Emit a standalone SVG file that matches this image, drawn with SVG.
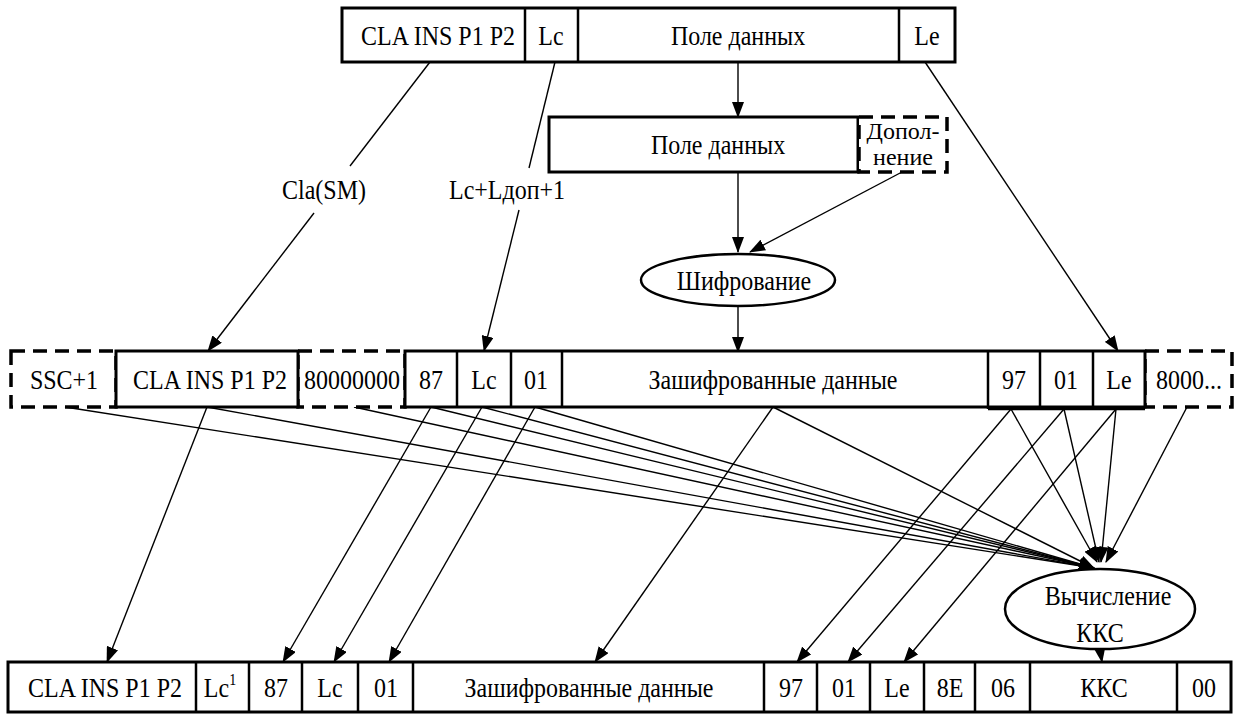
<svg xmlns="http://www.w3.org/2000/svg" width="1242" height="718" viewBox="0 0 1242 718" font-family="'Liberation Serif', 'Times New Roman', serif">
<style>
text{font-family:'Liberation Serif','Times New Roman',serif;font-size:24px;fill:#000;text-anchor:middle}
.box{fill:#fff;stroke:#000;stroke-width:3}
.dash{fill:#fff;stroke:#000;stroke-width:3.5;stroke-dasharray:14 8}
.div{stroke:#000;stroke-width:2.5}
.ell{fill:#fff;stroke:#000;stroke-width:2.5}
.ln{stroke:#000;stroke-width:1.4;fill:none}
.ar{stroke:#000;stroke-width:1.4;fill:none;marker-end:url(#ah)}
</style>
<defs>
<marker id="ah" markerUnits="userSpaceOnUse" markerWidth="16" markerHeight="12" refX="15" refY="6" orient="auto">
<path d="M0,0 L16,6 L0,12 z" fill="#000"/>
</marker>
</defs>
<rect width="1242" height="718" fill="#fff"/>

<g id="connectors">
<line class="ar" x1="738" y1="62" x2="738" y2="117"/>
<line class="ar" x1="738" y1="172" x2="738" y2="252"/>
<line class="ar" x1="902" y1="172" x2="750" y2="252"/>
<line class="ar" x1="738" y1="306" x2="738" y2="352"/>
<line class="ln" x1="430" y1="62" x2="350" y2="166"/>
<line class="ar" x1="314" y1="213" x2="208" y2="351"/>
<line class="ln" x1="555" y1="62" x2="529" y2="168"/>
<line class="ar" x1="519" y1="210" x2="484" y2="351"/>
<line class="ar" x1="925" y1="62" x2="1118" y2="351"/>
<line class="ar" x1="207" y1="407" x2="107" y2="662"/>
<line class="ar" x1="431" y1="407" x2="283" y2="662"/>
<line class="ar" x1="482" y1="407" x2="334" y2="662"/>
<line class="ar" x1="535" y1="407" x2="389" y2="662"/>
<line class="ar" x1="773" y1="407" x2="595" y2="662"/>
<line class="ar" x1="1011" y1="409" x2="797" y2="662"/>
<line class="ar" x1="1064" y1="409" x2="848" y2="662"/>
<line class="ar" x1="1116" y1="409" x2="904" y2="662"/>
<line class="ar" x1="65" y1="407" x2="1094" y2="568"/>
<line class="ar" x1="207" y1="407" x2="1094" y2="568"/>
<line class="ar" x1="354" y1="407" x2="1094" y2="568"/>
<line class="ar" x1="431" y1="407" x2="1094" y2="568"/>
<line class="ar" x1="482" y1="407" x2="1094" y2="568"/>
<line class="ar" x1="535" y1="407" x2="1094" y2="568"/>
<line class="ar" x1="773" y1="407" x2="1094" y2="568"/>
<line class="ar" x1="1011" y1="409" x2="1097" y2="562"/>
<line class="ar" x1="1064" y1="409" x2="1099" y2="562"/>
<line class="ar" x1="1116" y1="409" x2="1101" y2="562"/>
<line class="ar" x1="1187" y1="407" x2="1106" y2="562"/>
<line class="ar" x1="1100" y1="650" x2="1102" y2="662"/>
</g>

<g id="top-row">
<rect class="box" x="342" y="8" width="613" height="54"/>
<line class="div" x1="525" y1="8" x2="525" y2="62"/>
<line class="div" x1="578" y1="8" x2="578" y2="62"/>
<line class="div" x1="899" y1="8" x2="899" y2="62"/>
<text transform="translate(438 45) scale(1 1.18)">CLA INS P1 P2</text>
<text transform="translate(551 45) scale(1 1.18)">Lc</text>
<text transform="translate(738 45) scale(1 1.18)">Поле данных</text>
<text transform="translate(927 45) scale(1 1.18)">Le</text>
</g>

<g id="data-field">
<rect class="box" x="549" y="117" width="309" height="55"/>
<text transform="translate(718 154) scale(1 1.18)">Поле данных</text>
</g>
<g id="padding">
<rect class="dash" x="859" y="117" width="88" height="55"/>
<text font-size="20" x="903" y="139">Допол-</text>
<text font-size="20" x="903" y="165">нение</text>
</g>

<g id="encrypt">
<ellipse class="ell" cx="738" cy="280" rx="97" ry="26"/>
<text transform="translate(744 290) scale(1 1.18)">Шифрование</text>
</g>

<g id="labels">
<text transform="translate(324 199) scale(1 1.18)">Cla(SM)</text>
<text transform="translate(507 199) scale(1 1.18)">Lc+Lдоп+1</text>
</g>

<g id="middle-row">
<rect class="dash" x="11" y="351" width="105" height="56"/>
<rect class="dash" x="298" y="351" width="107" height="56"/>
<rect class="dash" x="1145" y="351" width="87" height="56"/>
<rect class="box" x="116" y="351" width="182" height="56"/>
<rect class="box" x="405" y="351" width="740" height="56"/>
<line class="div" x1="457" y1="351" x2="457" y2="407"/>
<line class="div" x1="511" y1="351" x2="511" y2="407"/>
<line class="div" x1="562" y1="351" x2="562" y2="407"/>
<line class="div" x1="988" y1="351" x2="988" y2="409"/>
<line class="div" x1="1040" y1="351" x2="1040" y2="409"/>
<line class="div" x1="1093" y1="351" x2="1093" y2="409"/>
<line class="div" x1="988" y1="409" x2="1145" y2="409"/>
<text transform="translate(64 389) scale(1 1.18)">SSC+1</text>
<text transform="translate(210 389) scale(1 1.18)">CLA INS P1 P2</text>
<text font-size="23" transform="translate(352 389) scale(1 1.18)">80000000</text>
<text transform="translate(431 389) scale(1 1.18)">87</text>
<text transform="translate(484 389) scale(1 1.18)">Lc</text>
<text transform="translate(536 389) scale(1 1.18)">01</text>
<text transform="translate(773 389) scale(1 1.18)">Зашифрованные данные</text>
<text transform="translate(1014 389) scale(1 1.18)">97</text>
<text transform="translate(1066 389) scale(1 1.18)">01</text>
<text transform="translate(1119 389) scale(1 1.18)">Le</text>
<text font-size="22" transform="translate(1189 389) scale(1 1.18)">8000...</text>
</g>

<g id="mac">
<ellipse class="ell" cx="1100" cy="609" rx="95" ry="40"/>
<text font-size="22" transform="translate(1108 605) scale(1 1.15)">Вычисление</text>
<text font-size="32" transform="translate(1100 642) scale(1 1.15)">ККС</text>
</g>

<g id="bottom-row">
<rect class="box" x="8" y="662" width="1223" height="50"/>
<line class="div" x1="196" y1="662" x2="196" y2="712"/>
<line class="div" x1="249" y1="662" x2="249" y2="712"/>
<line class="div" x1="302" y1="662" x2="302" y2="712"/>
<line class="div" x1="358" y1="662" x2="358" y2="712"/>
<line class="div" x1="413" y1="662" x2="413" y2="712"/>
<line class="div" x1="764" y1="662" x2="764" y2="712"/>
<line class="div" x1="817" y1="662" x2="817" y2="712"/>
<line class="div" x1="870" y1="662" x2="870" y2="712"/>
<line class="div" x1="924" y1="662" x2="924" y2="712"/>
<line class="div" x1="975" y1="662" x2="975" y2="712"/>
<line class="div" x1="1030" y1="662" x2="1030" y2="712"/>
<line class="div" x1="1177" y1="662" x2="1177" y2="712"/>
<text transform="translate(105 697) scale(1 1.18)">CLA INS P1 P2</text>
<text transform="translate(220 697) scale(1 1.18)">Lc<tspan font-size="14" dy="-10">1</tspan></text>
<text transform="translate(276 697) scale(1 1.18)">87</text>
<text transform="translate(330 697) scale(1 1.18)">Lc</text>
<text transform="translate(386 697) scale(1 1.18)">01</text>
<text transform="translate(589 697) scale(1 1.18)">Зашифрованные данные</text>
<text transform="translate(791 697) scale(1 1.18)">97</text>
<text transform="translate(844 697) scale(1 1.18)">01</text>
<text transform="translate(897 697) scale(1 1.18)">Le</text>
<text transform="translate(950 697) scale(1 1.18)">8E</text>
<text transform="translate(1003 697) scale(1 1.18)">06</text>
<text transform="translate(1104 697) scale(1 1.18)">ККС</text>
<text transform="translate(1204 697) scale(1 1.18)">00</text>
</g>
</svg>
